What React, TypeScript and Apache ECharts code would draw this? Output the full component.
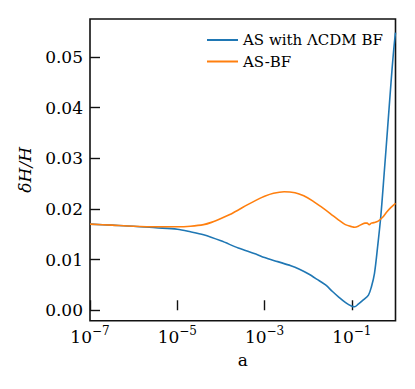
import React, { useEffect, useRef } from "react";
import * as echarts from "echarts";

// scale factor a and fractional Hubble deviation dH/H
const aBlue = [
  1e-7, 3.2e-7, 1e-6, 3.2e-6, 1e-5, 2e-5, 4e-5, 1e-4, 2.5e-4, 6.3e-4, 1e-3, 2e-3,
  4e-3, 6.3e-3, 1e-2, 1.6e-2, 2.5e-2, 3.6e-2, 5e-2, 7.2e-2, 0.1, 0.115, 0.14, 0.18,
  0.24, 0.28, 0.33, 0.39, 0.46, 0.55, 0.66, 0.79, 0.89, 1.0,
];
const blueValues = [
  0.017, 0.0168, 0.0166, 0.0163, 0.016, 0.0155, 0.0149, 0.0137, 0.0123, 0.0111, 0.0104, 0.0096,
  0.0088, 0.0081, 0.0072, 0.0061, 0.005, 0.0037, 0.0026, 0.0015, 0.0008, 0.0007, 0.0012, 0.002,
  0.003, 0.0046, 0.0073, 0.0126, 0.0185, 0.027, 0.036, 0.045, 0.0505, 0.0548,
];

const aOrange = [
  1e-7, 3.2e-7, 1e-6, 3.2e-6, 1e-5, 2e-5, 4e-5, 6.3e-5, 1e-4, 1.6e-4, 2.5e-4, 4e-4,
  6.3e-4, 1e-3, 1.6e-3, 2.8e-3, 5e-3, 7.9e-3, 1.26e-2, 2e-2, 3.2e-2, 5e-2, 7.1e-2, 0.1,
  0.117, 0.14, 0.18, 0.2, 0.224, 0.25, 0.28, 0.32, 0.4, 0.5, 0.63, 0.79, 1.0,
];
const orangeValues = [
  0.017, 0.0168, 0.0166, 0.0165, 0.0165, 0.0166, 0.0169, 0.0174, 0.0181, 0.0189, 0.0198, 0.0208,
  0.0217, 0.0225, 0.0231, 0.0234, 0.0232, 0.0226, 0.0216, 0.0204, 0.0191, 0.0178, 0.0169, 0.0165,
  0.0164, 0.0166, 0.0171, 0.0172, 0.0172, 0.0169, 0.0172, 0.0173, 0.0176, 0.0183, 0.0194, 0.0203, 0.0211,
];

const xTicks = [1e-7, 1e-5, 1e-3, 1e-1];
const yTicks = [0, 0.01, 0.02, 0.03, 0.04, 0.05];
const seriesNames = ["AS with ΛCDM BF", "AS-BF"];

const FONT = "'DejaVu Serif', serif";

export default function App() {
  const ref = useRef<HTMLDivElement>(null);
  useEffect(() => {
    if (!ref.current) return;
    const chart = echarts.init(ref.current, null, { renderer: "svg" });
    chart.setOption({
      animation: false,
      textStyle: { fontFamily: FONT },
      grid: {
        left: 90,
        right: 19.5,
        top: 19,
        bottom: 68.3,
        show: true,
        borderColor: "#111",
        borderWidth: 1.6,
        backgroundColor: "transparent",
      },
      legend: {
        orient: "vertical",
        left: 202,
        top: 27,
        itemWidth: 31,
        itemHeight: 2,
        itemGap: 5.5,
        icon: "rect",
        textStyle: { fontFamily: FONT, fontSize: 15, color: "#000", lineHeight: 16 },
        data: seriesNames,
      },
      xAxis: {
        type: "log",
        logBase: 10,
        min: 1e-7,
        max: 1,
        name: "a",
        nameLocation: "middle",
        nameGap: 31,
        nameTextStyle: { fontFamily: FONT, fontSize: 17, color: "#000" },
        axisLine: { show: false },
        splitLine: { show: false },
        minorTick: { show: false },
        axisTick: {
          show: true,
          inside: true,
          length: 10,
          lineStyle: { color: "#111", width: 1.4 },
          customValues: xTicks,
        },
        axisLabel: {
          margin: 4,
          customValues: xTicks,
          fontFamily: FONT,
          formatter: (v: number) => {
            const e = Math.round(Math.log10(v));
            return `{b|10}{s|${e < 0 ? "\u2212" : ""}${Math.abs(e)}}`;
          },
          rich: {
            b: { fontFamily: FONT, fontSize: 17, color: "#000", lineHeight: 24 },
            s: { fontFamily: FONT, fontSize: 12, color: "#000", lineHeight: 12, verticalAlign: "top" },
          },
        },
      },
      yAxis: {
        type: "value",
        min: -0.00206,
        max: 0.0575,
        name: "δH/H",
        nameLocation: "middle",
        nameGap: 57,
        nameTextStyle: { fontFamily: FONT, fontSize: 17, color: "#000", fontStyle: "italic" },
        axisLine: { show: false },
        splitLine: { show: false },
        axisTick: {
          show: true,
          inside: true,
          length: 10,
          lineStyle: { color: "#111", width: 1.4 },
          customValues: yTicks,
        },
        axisLabel: {
          margin: 7,
          customValues: yTicks,
          fontFamily: FONT,
          fontSize: 17,
          color: "#000",
          formatter: (v: number) => v.toFixed(2),
        },
      },
      series: [
        {
          name: seriesNames[0],
          type: "line",
          data: aBlue.map((a, i) => [a, blueValues[i]]),
          showSymbol: false,
          smooth: 0.3,
          clip: true,
          lineStyle: { color: "#1f77b4", width: 1.6 },
          itemStyle: { color: "#1f77b4" },
        },
        {
          name: seriesNames[1],
          type: "line",
          data: aOrange.map((a, i) => [a, orangeValues[i]]),
          showSymbol: false,
          smooth: 0.3,
          clip: true,
          lineStyle: { color: "#ff7f0e", width: 1.6 },
          itemStyle: { color: "#ff7f0e" },
        },
      ],
    });
    return () => chart.dispose();
  }, []);
  return <div ref={ref} style={{ width: 415, height: 389, margin: -8 }} />;
}
